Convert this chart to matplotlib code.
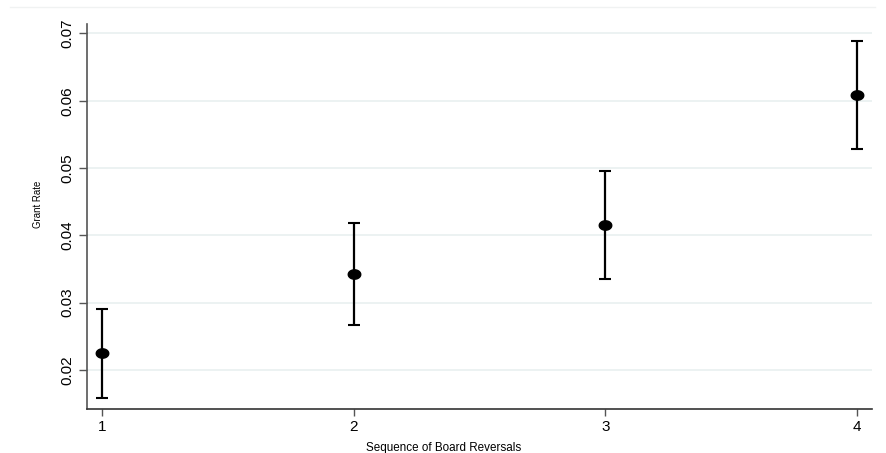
import matplotlib
matplotlib.use("Agg")
import matplotlib.pyplot as plt
from matplotlib.path import Path
from matplotlib.lines import Line2D
import numpy as np

# Data
sequence = [1, 2, 3, 4]
grant_rate = [0.0225, 0.0343, 0.0415, 0.0609]
ci_low = [0.0159, 0.0267, 0.0335, 0.0528]
ci_high = [0.0290, 0.0419, 0.0496, 0.0689]
y_ticks = [0.02, 0.03, 0.04, 0.05, 0.06, 0.07]
y_tick_labels = ["0.02", "0.03", "0.04", "0.05", "0.06", "0.07"]

plt.rcParams['font.family'] = ['Liberation Sans', 'DejaVu Sans']

fig = plt.figure(figsize=(8.86, 4.53), dpi=100)
ax = fig.add_axes([87/886, 44/453, (872-87)/886, (409-24)/453])

# faint outer border line at top
fig.add_artist(Line2D([10/886, 875/886], [1-7/453, 1-7/453], transform=fig.transFigure,
                      color='#f0f2f2', lw=1))

for t in y_ticks:
    ax.axhline(t, color='#e9f0f0', lw=1.2, zorder=0)

gr = np.array(grant_rate)
lo = np.array(ci_low)
hi = np.array(ci_high)
ax.errorbar(sequence, gr, yerr=[gr - lo, hi - gr], fmt='none', ecolor='black',
            elinewidth=1.6, capsize=4.5, capthick=1.5, zorder=2)

# slightly wide elliptical marker
th = np.linspace(0, 2*np.pi, 60)
ell = Path(np.column_stack([np.cos(th), 0.75*np.sin(th)]), closed=True)
ax.plot(sequence, gr, linestyle='none', marker=ell, markersize=9,
        color='black', zorder=3)

ax.set_xlim(0.9404, 4.0596)
ax.set_ylim(0.0142, 0.07141)
ax.set_xticks(sequence)
ax.set_xticklabels([str(s) for s in sequence], fontsize=11)
ax.set_yticks(y_ticks)
ax.set_yticklabels(y_tick_labels, fontsize=11, rotation=90, va='center')

for s in ['top', 'right']:
    ax.spines[s].set_visible(False)
ax.spines['left'].set_color('#555555')
ax.spines['bottom'].set_color('#333333')
ax.spines['left'].set_linewidth(1.2)
ax.spines['bottom'].set_linewidth(1.2)
ax.tick_params(axis='y', length=6, color='#555555', width=1, pad=3)
ax.tick_params(axis='x', length=5, color='#555555', width=1, pad=3)

ax.set_xlabel("Sequence of Board Reversals", fontsize=8.4, labelpad=2)
ax.set_ylabel("Grant Rate", fontsize=6.9, labelpad=6)
ax.xaxis.set_label_coords((444 - 87) / (872 - 87), (409 - 442) / (409 - 24))
ax.yaxis.set_label_coords((43 - 87) / (872 - 87), (409 - 204) / (409 - 24))

fig.savefig("out.png", dpi=100)
